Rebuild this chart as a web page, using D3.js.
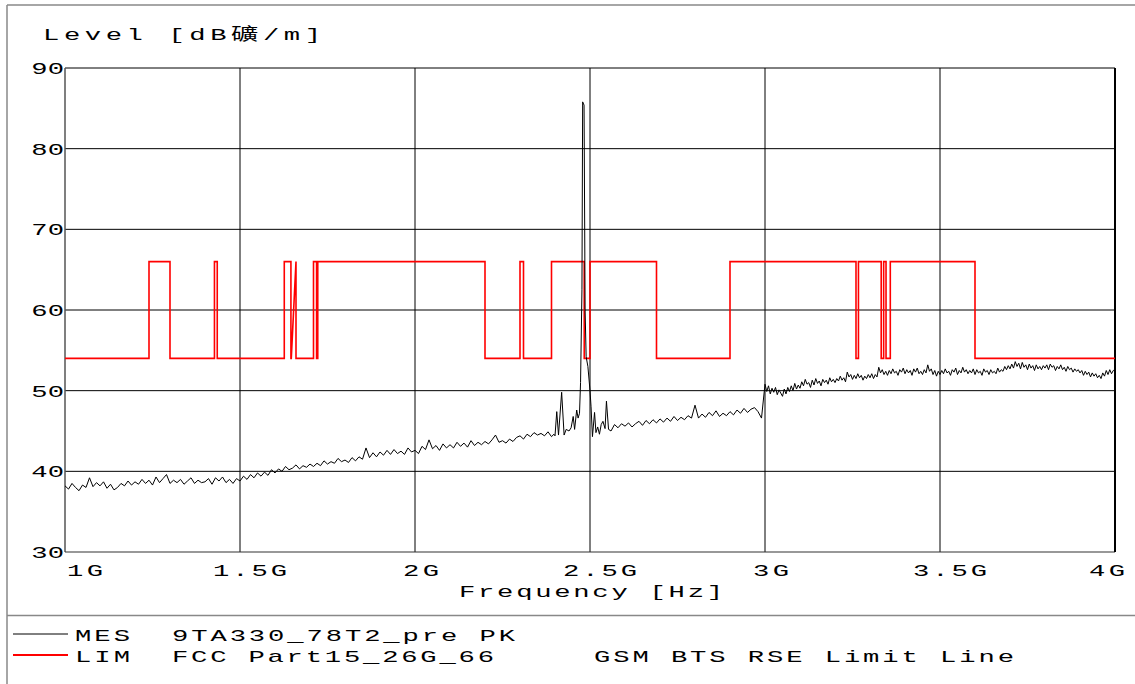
<!DOCTYPE html>
<html>
<head>
<meta charset="utf-8">
<script src="https://cdn.jsdelivr.net/npm/d3@7/dist/d3.min.js"></script>
<style>
  html, body { margin: 0; padding: 0; background: #fff; }
  svg { display: block; }
  text { font-family: "Liberation Mono", "DejaVu Sans Mono", "Noto Sans CJK SC", monospace; fill: #000; }
</style>
</head>
<body>
<svg id="chart" width="1135" height="684"></svg>
<script>
// ---------------- DATA ----------------
const yTicks = [30, 40, 50, 60, 70, 80, 90];
const xTicks = [1000, 1500, 2000, 2500, 3000, 3500, 4000];          // MHz
const xTickLabels = ["1G", "1.5G", "2G", "2.5G", "3G", "3.5G", "4G"];

const titleText = "Level [dB\u7926/m]";
const xAxisTitle = "Frequency [Hz]";
const legendTypes = ["MES", "LIM"];
const legendNames = ["9TA330_78T2_pre PK", "FCC Part15_26G_66"];
const legendNotes = ["", "GSM BTS RSE Limit Line"];

// Limit line vertices (frequency MHz, level dBµV/m)
const limitFreq = [1000, 1240, 1240, 1300, 1300, 1427, 1427, 1435, 1435, 1626.5, 1626.5, 1645.5, 1645.5, 1646.5, 1660, 1660,
  1710, 1710, 1718.8, 1718.8, 1722.2, 1722.2, 2200, 2200, 2300, 2300, 2310, 2310, 2390, 2390, 2483.5, 2483.5,
  2500, 2500, 2690, 2690, 2900, 2900, 3260, 3260, 3267, 3267, 3332, 3332, 3339, 3339, 3345.8, 3345.8, 3358, 3358,
  3600, 3600, 4000];
const limitLevel = [54, 54, 66, 66, 54, 54, 66, 66, 54, 54, 66, 66, 54, 54, 66, 54,
  54, 66, 66, 54, 54, 66, 66, 54, 54, 66, 66, 54, 54, 66, 66, 54,
  54, 66, 66, 54, 54, 66, 66, 54, 54, 66, 66, 54, 54, 66, 66, 54, 54, 66,
  66, 54, 54];

// Measurement trace, part 1: 1000 .. 2390 MHz, 10 MHz step
const mesLowStart = 1000, mesLowStep = 10;
const mesLowLevels = [
  38.2, 37.8, 38.5, 38.0, 37.6, 38.3, 38.0, 39.2, 38.1, 38.6,
  38.2, 38.7, 37.9, 38.4, 37.7, 38.0, 38.5, 38.2, 38.8, 38.3,
  38.7, 38.4, 39.0, 38.5, 38.9, 38.3, 39.3, 38.6, 39.1, 39.6,
  38.5, 38.9, 38.6, 39.0, 38.4, 38.8, 39.2, 38.5, 38.9, 38.6,
  38.7, 39.1, 38.4, 39.2, 38.8, 39.3, 38.6, 39.0, 38.5, 39.1,
  38.8, 39.4, 39.0, 39.6, 39.2, 39.8, 39.4, 39.9, 39.5, 40.2,
  39.8, 40.3, 40.0, 40.6, 40.2, 40.4, 40.8, 40.3, 40.7, 40.5,
  40.9, 40.6, 41.0, 40.7, 41.3, 40.9, 41.2, 41.0, 41.6, 41.2,
  41.4, 41.1, 41.7, 41.3, 41.8, 41.5, 42.9, 41.7, 42.3, 41.8,
  42.4, 42.0, 42.6, 42.1, 42.7, 42.2, 42.5, 42.1, 42.9, 42.4,
  42.6, 42.2, 43.1, 42.7, 43.9, 42.8, 43.2, 42.6, 43.4, 42.9,
  43.3, 42.9, 43.6, 43.1, 43.5, 43.0, 43.8, 43.2, 43.6, 43.3,
  43.7, 43.4, 43.9, 44.5, 43.6, 43.8, 43.5, 44.0, 43.7, 44.2,
  44.4, 44.0, 44.6, 44.3, 44.8, 44.5, 44.7, 44.4, 44.9, 44.3
];
// Measurement trace, part 2: detail around the carrier
const mesPeakFreq = [2397, 2400, 2405, 2410, 2419, 2426, 2432, 2440, 2446, 2452, 2456, 2462, 2466, 2470, 2473, 2477,
  2479, 2483, 2486, 2489, 2494, 2500, 2503, 2507, 2513, 2517, 2522, 2527, 2532, 2537, 2543, 2547, 2553, 2560];
const mesPeakLevels = [44.6, 44.4, 47.4, 44.5, 49.8, 44.5, 45.2, 45.0, 45.4, 46.8, 45.2, 47.6, 46.6, 47.2, 51.0, 62.5,
  85.8, 85.4, 60.0, 54.2, 53.0, 50.0, 48.0, 44.3, 47.3, 44.8, 45.5, 44.6, 45.8, 46.2, 45.3, 48.7, 45.2, 45.0];
// Measurement trace, part 3: 2570 .. 2990 MHz, 10 MHz step
const mesMidStart = 2570, mesMidStep = 10;
const mesMidLevels = [
  45.8, 45.4, 45.9,
  45.6, 46.0, 45.5, 45.9, 46.2, 45.7, 46.3, 45.9, 46.4, 46.0,
  46.5, 46.1, 46.6, 46.2, 46.8, 46.3, 46.7, 46.4, 46.9, 46.6,
  48.2, 46.6, 47.1, 46.7, 47.3, 46.9, 47.5, 46.8, 47.2, 46.9,
  47.4, 47.0, 47.6, 47.2, 47.8, 47.3, 47.7, 47.9, 47.4, 46.6
];
// Measurement trace, part 4: 3000 .. 4000 MHz, 5 MHz step
const mesTopStart = 3000, mesTopStep = 5;
const mesTopLevels = [
  50.8, 49.9, 50.6, 49.6, 50.3, 49.8, 50.4, 49.5, 50.1, 49.7, 49.3, 50.2, 49.6, 50.4, 49.9, 50.6, 50.0, 50.9, 50.2, 50.7,
  50.3, 51.1, 50.6, 51.4, 50.8, 51.0, 50.4, 51.3, 50.7, 51.5, 50.9, 51.2, 50.6, 51.4, 51.0, 51.3, 50.8, 51.6, 51.1, 51.4,
  51.0, 51.5, 51.2, 51.8, 51.3, 51.6, 51.1, 52.3, 51.7, 52.0, 51.4, 51.9, 51.5, 52.1, 51.6, 51.9, 51.3, 51.8, 51.5, 52.0,
  51.6, 52.1, 51.5, 52.0, 51.7, 52.9, 52.2, 52.6, 52.0, 52.4, 51.9, 52.5, 52.1, 52.7, 52.2, 52.4, 51.9, 52.6, 52.3, 52.8,
  52.1, 52.6, 52.2, 52.5, 51.9, 52.7, 52.3, 52.8, 52.1, 52.4, 52.0, 52.6, 52.2, 53.2, 52.4, 52.7, 52.0, 52.5, 51.8, 52.4,
  52.0, 52.5, 52.1, 52.7, 52.2, 52.4, 51.9, 52.6, 52.3, 52.8, 52.0, 52.5, 52.2, 52.9, 52.3, 52.6, 52.1, 52.5, 52.2, 52.7,
  52.0, 52.6, 52.2, 52.4, 51.9, 52.7, 52.3, 52.5, 52.0, 52.6, 52.2, 52.4, 52.1, 52.8, 52.3, 52.6, 52.4, 53.0, 52.6, 53.1,
  52.7, 53.3, 52.8, 53.6, 53.0, 53.4, 52.7, 53.5, 52.9, 53.2, 52.6, 53.3, 52.8, 53.1, 52.5, 53.2, 52.7, 53.0, 52.6, 53.1,
  52.8, 53.2, 52.6, 53.3, 52.9, 53.1, 52.5, 53.0, 52.7, 53.2, 52.6, 52.9, 52.4, 53.0, 52.6, 52.8, 52.3, 52.7, 52.4, 52.6,
  52.2, 52.5, 51.9, 52.4, 52.0, 52.3, 51.7, 52.2, 51.8, 52.1, 51.6, 51.9, 51.5, 52.2, 51.8, 52.5, 52.0, 52.6, 52.1, 52.5,
  52.6
];

// ---------------- BUILD ----------------
const mesPoints = []
  .concat(mesLowLevels.map((v, i) => [mesLowStart + i * mesLowStep, v]))
  .concat(mesPeakLevels.map((v, i) => [mesPeakFreq[i], v]))
  .concat(mesMidLevels.map((v, i) => [mesMidStart + i * mesMidStep, v]))
  .concat(mesTopLevels.map((v, i) => [mesTopStart + i * mesTopStep, v]));
const limitPoints = limitLevel.map((v, i) => [limitFreq[i], v]);

const svg = d3.select("#chart");
const W = 1135, H = 684;
const plot = { left: 65, right: 1115, top: 68, bottom: 552 };

const x = d3.scaleLinear().domain([1000, 4000]).range([plot.left, plot.right]);
const y = d3.scaleLinear().domain([30, 90]).range([plot.bottom, plot.top]);

const SX = 1.6;   // horizontal stretch of the glyphs
function label(str, x0, base, width, anchor) {
  const t = svg.append("text")
    .attr("transform", `translate(${x0},${base}) scale(${SX},1)`)
    .attr("font-size", 17)
    .attr("text-anchor", anchor || "start")
    .text(str);
  if (width) t.attr("textLength", width / SX).attr("lengthAdjust", "spacing");
  return t;
}

// outer frame
svg.append("line").attr("x1", 7).attr("x2", W).attr("y1", 5).attr("y2", 5).attr("stroke", "#888").attr("stroke-width", 1.5);
svg.append("line").attr("x1", 7).attr("x2", 7).attr("y1", 5).attr("y2", H).attr("stroke", "#888").attr("stroke-width", 1.5);
svg.append("line").attr("x1", 7).attr("x2", W).attr("y1", 615.5).attr("y2", 615.5).attr("stroke", "#888").attr("stroke-width", 1.5);

// grid
const g = svg.append("g");
g.selectAll("line.h").data(yTicks.slice(1)).join("line")
  .attr("x1", plot.left).attr("x2", plot.right)
  .attr("y1", d => y(d)).attr("y2", d => y(d))
  .attr("stroke", "#000").attr("stroke-width", 1);
g.selectAll("line.v").data(xTicks.slice(1, -1)).join("line")
  .attr("x1", d => x(d)).attr("x2", d => x(d))
  .attr("y1", plot.top).attr("y2", plot.bottom)
  .attr("stroke", "#000").attr("stroke-width", 1);
// axes
g.append("line").attr("x1", plot.left).attr("x2", plot.left).attr("y1", plot.top).attr("y2", plot.bottom).attr("stroke", "#555").attr("stroke-width", 1.5);
g.append("line").attr("x1", plot.left).attr("x2", plot.right).attr("y1", plot.bottom).attr("y2", plot.bottom).attr("stroke", "#333").attr("stroke-width", 1.2);
g.append("line").attr("x1", plot.right).attr("x2", plot.right).attr("y1", plot.top).attr("y2", plot.bottom).attr("stroke", "#000").attr("stroke-width", 2);

// y tick labels (right-aligned just left of the axis)
yTicks.forEach(v => label(String(v), 64, y(v) + 6, null, "end"));
// x tick labels
xTicks.forEach((v, i) => {
  const s = xTickLabels[i];
  let dx;
  if (i === 0) dx = 2;
  else if (i === xTicks.length - 1) dx = -26;
  else dx = s.length === 2 ? -12 : -27;
  label(s, x(v) + dx, 576, s.length === 2 ? 36 : 74);
});

label(titleText, 43, 40, 278);
label(xAxisTitle, 459, 597, 264);

// traces
const lineGen = d3.line().x(d => x(d[0])).y(d => y(d[1]));
svg.append("path").datum(limitPoints).attr("d", lineGen)
  .attr("fill", "none").attr("stroke", "#ff0000").attr("stroke-width", 1.6).attr("stroke-linejoin", "miter");
svg.append("path").datum(mesPoints).attr("d", lineGen)
  .attr("fill", "none").attr("stroke", "#000").attr("stroke-width", 1);

// legend
const legendColors = ["#000", "#ff0000"];
const legendY = [634, 655];
const legendBase = [641, 662];
legendTypes.forEach((t, i) => {
  svg.append("line").attr("x1", 13).attr("x2", 68).attr("y1", legendY[i]).attr("y2", legendY[i])
    .attr("stroke", legendColors[i]).attr("stroke-width", i === 0 ? 1 : 2);
  label(t, 75, legendBase[i], 55);
  label(legendNames[i], 172, legendBase[i], i === 0 ? 343 : 322);
  if (legendNotes[i]) label(legendNotes[i], 594, legendBase[i], 420);
});
</script>
</body>
</html>
